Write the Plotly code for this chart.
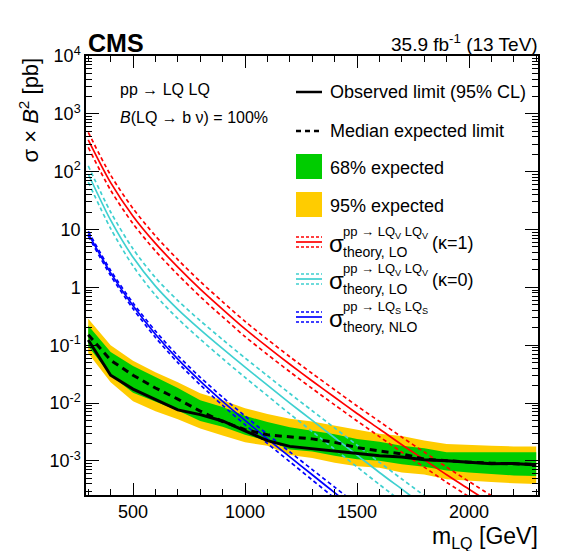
import plotly.graph_objects as go

# limits vs LQ mass (pb)
mass = [300, 400, 500, 600, 700, 800, 900, 1000, 1100, 1200, 1300,
        1400, 1500, 1600, 1700, 1800, 1900, 2000, 2100, 2200, 2300]
obs = [0.123, 0.0302, 0.0174, 0.0115, 0.0076, 0.0063, 0.0049, 0.0033, 0.00224, 0.00178, 0.00162,
       0.00148, 0.00135, 0.00123, 0.00117, 0.00105, 0.00100, 0.00093, 0.00089, 0.00090, 0.00085]
exp_med = [0.151, 0.055, 0.0302, 0.0182, 0.0117, 0.00724, 0.00479, 0.00347, 0.00282, 0.0026, 0.0024,
           0.00209, 0.0017, 0.00148, 0.00132, 0.00107, 0.00100, 0.00095, 0.00091, 0.00089, 0.00087]
exp_p1 = [0.219, 0.0759, 0.0437, 0.0282, 0.0182, 0.0112, 0.0085, 0.0060, 0.00468, 0.0038, 0.00331,
          0.00288, 0.0024, 0.00214, 0.00182, 0.00166, 0.00141, 0.00141, 0.00141, 0.00141, 0.00141]
exp_m1 = [0.0955, 0.0302, 0.0151, 0.0107, 0.0074, 0.0049, 0.00389, 0.00282, 0.00224, 0.00158, 0.00145,
          0.00123, 0.00107, 0.00100, 0.00087, 0.00079, 0.00068, 0.00063, 0.00059, 0.00056, 0.00055]
exp_p2 = [0.288, 0.100, 0.0537, 0.0339, 0.0229, 0.0148, 0.0112, 0.00813, 0.00646, 0.00537, 0.00479,
          0.00407, 0.00355, 0.00295, 0.00269, 0.00224, 0.00195, 0.00186, 0.00182, 0.00178, 0.00178]
exp_m2 = [0.0724, 0.0229, 0.0107, 0.00724, 0.00525, 0.00363, 0.00275, 0.00209, 0.00182, 0.00126, 0.00112,
          0.00093, 0.00081, 0.00076, 0.00063, 0.00058, 0.00048, 0.00045, 0.00043, 0.00041, 0.00040]

# vector LQ, kappa=1 (LO)
mass_v1 = [300, 400, 500, 600, 700, 800, 900, 1000, 1100, 1200, 1300,
           1400, 1500, 1600, 1700, 1800, 1900, 2000, 2100, 2200]
xs_v1 = [355, 64.6, 17.0, 5.75, 2.24, 0.933, 0.417, 0.191, 0.0933, 0.0468, 0.024,
         0.0126, 0.0066, 0.00355, 0.0019, 0.00105, 0.000575, 0.000324, 0.000182, 0.000102]
xs_v1_up = [479, 87.2, 23.0, 7.76, 3.02, 1.26, 0.563, 0.258, 0.126, 0.0632, 0.0324,
            0.017, 0.0089, 0.0048, 0.00257, 0.00142, 0.00078, 0.00044, 0.00025, 0.00014]
xs_v1_dn = [263, 47.9, 12.6, 4.26, 1.66, 0.691, 0.309, 0.141, 0.0691, 0.0347, 0.0178,
            0.0093, 0.0049, 0.00263, 0.00141, 0.00078, 0.000426, 0.00024, 0.000135, 0.000075]

# vector LQ, kappa=0 (LO)
mass_v0 = [300, 400, 500, 600, 700, 800, 900, 1000, 1100, 1200, 1300,
           1400, 1500, 1600, 1700, 1800]
xs_v0 = [91.2, 14.5, 3.31, 1.05, 0.417, 0.186, 0.0871, 0.0417, 0.0204, 0.01, 0.00501,
         0.00251, 0.00126, 0.00063, 0.000324, 0.000166]
xs_v0_up = [126, 20.1, 4.62, 1.47, 0.59, 0.265, 0.125, 0.0601, 0.0296, 0.0146, 0.00736,
            0.00371, 0.00187, 0.000944, 0.000486, 0.000251]
xs_v0_dn = [66.1, 10.4, 2.34, 0.731, 0.288, 0.127, 0.0586, 0.0277, 0.0134, 0.00649, 0.00321,
            0.00159, 0.000787, 0.00039, 0.000197, 0.0001]

# scalar LQ (NLO)
mass_s = [300, 400, 500, 600, 700, 800, 900, 1000, 1100, 1200, 1300, 1400, 1500]
xs_s = [8.51, 1.78, 0.479, 0.155, 0.0575, 0.024, 0.0107, 0.00501, 0.0024, 0.00117,
        0.000575, 0.000282, 0.000138]
xs_s_up = [9.33, 1.97, 0.537, 0.176, 0.0661, 0.0279, 0.0126, 0.00596, 0.00288, 0.00143,
           0.000708, 0.000351, 0.000174]
xs_s_dn = [7.76, 1.60, 0.427, 0.136, 0.0501, 0.0207, 0.00912, 0.00422, 0.002, 0.000966,
           0.000468, 0.000226, 0.00011]

ytick_vals = [1e-3, 1e-2, 1e-1, 1, 10, 1e2, 1e3, 1e4]
ytick_text = ["10<sup>-3</sup>", "10<sup>-2</sup>", "10<sup>-1</sup>", "1", "10",
              "10<sup>2</sup>", "10<sup>3</sup>", "10<sup>4</sup>"]

GREEN = "#00cc00"
YELLOW = "#ffcc00"
RED = "#ff0000"
CYAN = "#3fd0d0"
BLUE = "#0000ff"
FONT = "Liberation Sans, Arial, sans-serif"

# plot frame in pixels
L, R, T, B = 86, 538, 56, 495


def px(x):
    return (x - L) / (R - L)


def py(y):
    return (B - y) / (B - T)


fig = go.Figure()

# bands
fig.add_trace(go.Scatter(x=mass, y=exp_m2, mode="lines", line=dict(width=0, color=YELLOW),
                         showlegend=False))
fig.add_trace(go.Scatter(x=mass, y=exp_p2, mode="lines", line=dict(width=0, color=YELLOW),
                         fill="tonexty", fillcolor=YELLOW, showlegend=False))
fig.add_trace(go.Scatter(x=mass, y=exp_m1, mode="lines", line=dict(width=0, color=GREEN),
                         showlegend=False))
fig.add_trace(go.Scatter(x=mass, y=exp_p1, mode="lines", line=dict(width=0, color=GREEN),
                         fill="tonexty", fillcolor=GREEN, showlegend=False))

# theory curves
for m, c, up, dn, col in [(mass_v1, xs_v1, xs_v1_up, xs_v1_dn, RED),
                          (mass_v0, xs_v0, xs_v0_up, xs_v0_dn, CYAN),
                          (mass_s, xs_s, xs_s_up, xs_s_dn, BLUE)]:
    for yv, dash in [(up, "4px,3px"), (dn, "4px,3px"), (c, "solid")]:
        fig.add_trace(go.Scatter(x=m, y=yv, mode="lines",
                                 line=dict(color=col, width=1.7, dash=dash, shape="spline", smoothing=0.8),
                                 showlegend=False))

fig.add_trace(go.Scatter(x=mass, y=exp_med, mode="lines",
                         line=dict(color="black", width=3, dash="7px,5px"), showlegend=False))
fig.add_trace(go.Scatter(x=mass, y=obs, mode="lines",
                         line=dict(color="black", width=3), showlegend=False))

ann = []
shapes = []


def text(x, y, s, size, xanchor="left", yanchor="middle", **kw):
    ann.append(dict(x=px(x), y=py(y), xref="paper", yref="paper", text=s, showarrow=False,
                    xanchor=xanchor, yanchor=yanchor, font=dict(size=size, color="black", family=FONT),
                    **kw))


text(L, 43, "<b>CMS</b>", 25, yanchor="middle")
text(R + 2, 43, "35.9 fb<sup>-1</sup> (13 TeV)", 19, xanchor="right")
text(118, 89, "pp \u2192 LQ LQ", 16)
text(118, 118, "<i>B</i>(LQ \u2192 b \u03bd) = 100%", 16)
text(R + 2, 537, "m<sub>LQ</sub> [GeV]", 23, xanchor="right")
ann.append(dict(x=px(28), y=1.0, xref="paper", yref="paper", text="\u03c3 \u00d7 <i>B</i><sup>2</sup> [pb]",
                showarrow=False, textangle=-90, xanchor="center", yanchor="top",
                font=dict(size=22, color="black", family=FONT)))

# legend
lx0, lx1, tx = 296, 322, 328
shapes.append(dict(type="line", xref="paper", yref="paper", x0=px(lx0), x1=px(lx1),
                   y0=py(92), y1=py(92), line=dict(color="black", width=2.5)))
text(tx, 92, "Observed limit (95% CL)", 18)
shapes.append(dict(type="line", xref="paper", yref="paper", x0=px(lx0), x1=px(lx1),
                   y0=py(131), y1=py(131), line=dict(color="black", width=2.5, dash="5px,4px")))
text(tx, 131, "Median expected limit", 18)
shapes.append(dict(type="rect", xref="paper", yref="paper", x0=px(lx0), x1=px(lx1),
                   y0=py(154), y1=py(179), fillcolor=GREEN, line=dict(width=0)))
text(tx, 168, "68% expected", 18)
shapes.append(dict(type="rect", xref="paper", yref="paper", x0=px(lx0), x1=px(lx1),
                   y0=py(192), y1=py(217), fillcolor=YELLOW, line=dict(width=0)))
text(tx, 206, "95% expected", 18)

for yc, col, sup, sub, tail in [(242, RED, "pp \u2192 LQ<sub>V</sub> LQ<sub>V</sub>", "theory, LO", "(\u03ba=1)"),
                                 (279, CYAN, "pp \u2192 LQ<sub>V</sub> LQ<sub>V</sub>", "theory, LO", "(\u03ba=0)"),
                                 (317, BLUE, "pp \u2192 LQ<sub>S</sub> LQ<sub>S</sub>", "theory, NLO", "")]:
    for dy, dash in [(-5, "3px,2px"), (0, "solid"), (5, "3px,2px")]:
        shapes.append(dict(type="line", xref="paper", yref="paper", x0=px(lx0), x1=px(lx1),
                           y0=py(yc + dy), y1=py(yc + dy), line=dict(color=col, width=1.7, dash=dash)))
    text(tx - 1, yc + 1, "\u03c3", 24)
    text(341, yc - 10, sup, 13)
    text(341, yc + 10, sub, 14)
    if tail:
        text(430, yc + 1, tail, 18)

fig.update_layout(
    width=568, height=551,
    margin=dict(l=L, r=568 - R, t=T, b=551 - B),
    plot_bgcolor="white", paper_bgcolor="white",
    font=dict(family=FONT, size=18, color="black"),
    annotations=ann, shapes=shapes,
    showlegend=False,
)
fig.update_xaxes(range=[290, 2308], tick0=0, dtick=500, ticks="inside", ticklen=12,
                 tickwidth=1.2, tickcolor="black", showline=True, linecolor="black", linewidth=1.5,
                 mirror="allticks", showgrid=False, zeroline=False,
                 tickfont=dict(size=18),
                 minor=dict(dtick=100, ticks="inside", ticklen=6, tickcolor="black", showgrid=False))
minor_y = [k * 10 ** e for e in range(-4, 4) for k in range(2, 10)]
fig.update_yaxes(type="log", range=[-3.59, 4], tickmode="array", tickvals=ytick_vals,
                 ticktext=ytick_text, ticks="inside", ticklen=13, tickwidth=1.2, tickcolor="black",
                 showline=True, linecolor="black", linewidth=1.5, mirror="allticks",
                 showgrid=False, zeroline=False, tickfont=dict(size=18),
                 minor=dict(tickmode="array", tickvals=minor_y, ticks="inside", ticklen=6,
                            tickcolor="black", showgrid=False))

fig.write_html("out.html", config={"displayModeBar": False},
               post_script="document.body.style.margin='0';")
